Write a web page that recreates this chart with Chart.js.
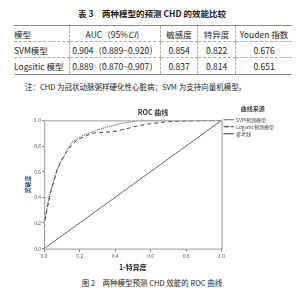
<!DOCTYPE html>
<html>
<head>
<meta charset="utf-8">
<script src="https://cdn.jsdelivr.net/npm/chart.js@4.4.0/dist/chart.umd.min.js"></script>
<style>
  body { margin: 0; width: 304px; height: 300px; background: #fff; position: relative; overflow: hidden;
         font-family: "Noto Sans CJK SC", "DejaVu Sans", sans-serif; color: #222; }
  .cap { position: absolute; left: 0; width: 304px; text-align: center; white-space: pre; }
  #tblTitle { top: 7px; font-size: 8.5px; font-weight: bold; }
  table { position: absolute; left: 14px; top: 25px; border-collapse: collapse; font-size: 8.5px; }
  td { border: 1px dashed #aaa; text-align: center; padding: 0; height: 15px; }
  tr:first-child td { border-top: 1px solid #888; }
  tr:last-child td { border-bottom: 1px solid #888; height: 16px; }
  td:first-child { border-left: none; text-align: left; }
  td:last-child { border-right: none; }
  #note { position: absolute; left: 25px; top: 81px; font-size: 7.5px; white-space: pre; }
  #wrap { position: absolute; left: 0; top: 104px; width: 304px; height: 172px; }
  #fig { top: 277px; font-size: 7.5px; }
</style>
</head>
<body>
<div class="cap" id="tblTitle">表 3　两种模型的预测 CHD 的效能比较</div>
<table>
  <tr><td style="width:55px">模型</td><td style="width:90px">AUC（95%<i>CI</i>）</td><td style="width:36px">敏感度</td><td style="width:37px">特异度</td><td style="width:56px">Youden 指数</td></tr>
  <tr><td>SVM模型</td><td>0.904（0.889~0.920）</td><td>0.854</td><td>0.822</td><td>0.676</td></tr>
  <tr><td>Logsitic 模型</td><td>0.889（0.870~0.907）</td><td>0.837</td><td>0.814</td><td>0.651</td></tr>
</table>
<div id="note">注：CHD 为冠状动脉粥样硬化性心脏病；SVM 为支持向量机模型。</div>
<div id="wrap"><canvas id="roc"></canvas></div>
<div class="cap" id="fig">图 2　两种模型预测 CHD 效能的 ROC 曲线</div>
<script>
// ROC points (1-特异度 -> 灵敏度)
const svmFpr = [0, 0, 0.005, 0.015, 0.03, 0.045, 0.06, 0.075, 0.1, 0.13, 0.15, 0.18, 0.22, 0.26, 0.3, 0.36, 0.43, 0.5, 0.54, 0.7, 0.85, 1.0];
const svmTpr = [0, 0.19, 0.25, 0.31, 0.42, 0.49, 0.56, 0.62, 0.69, 0.77, 0.82, 0.85, 0.885, 0.905, 0.925, 0.95, 0.975, 0.99, 1.0, 1.0, 1.0, 1.0];
const logFpr = [0, 0, 0.01, 0.02, 0.035, 0.05, 0.07, 0.09, 0.12, 0.15, 0.18, 0.22, 0.27, 0.32, 0.38, 0.45, 0.52, 0.6, 0.7, 0.8, 0.9, 1.0];
const logTpr = [0, 0.17, 0.26, 0.33, 0.43, 0.5, 0.6, 0.67, 0.74, 0.8, 0.84, 0.87, 0.9, 0.905, 0.91, 0.93, 0.955, 0.975, 0.99, 0.995, 1.0, 1.0];
const refFpr = [0, 1];
const refTpr = [0, 1];
const seriesNames = ['SVM预测模型', 'Logistic预测模型', '参考线'];
const tickValues = [0, 0.2, 0.4, 0.6, 0.8, 1.0];

function toPoints(xs, ys) {
    return xs.map((x, i) => ({ x: x, y: ys[i] }));
}

// box around the plot area
const frame = {
    id: 'frame',
    afterDraw(chart) {
        const a = chart.chartArea;
        const c = chart.ctx;
        c.save();
        c.strokeStyle = '#999';
        c.lineWidth = 1;
        c.strokeRect(a.left + 0.5, a.top + 0.5, a.right - a.left, a.bottom - a.top);
        c.restore();
    }
};

const font = '"Noto Sans CJK SC", "DejaVu Sans", sans-serif';

new Chart(document.getElementById('roc'), {
    type: 'scatter',
    data: {
        datasets: [
            { label: seriesNames[0], data: toPoints(svmFpr, svmTpr), borderColor: '#444', borderDash: [1, 1], borderWidth: 1 },
            { label: seriesNames[1], data: toPoints(logFpr, logTpr), borderColor: '#444', borderDash: [4, 3], borderWidth: 1 },
            { label: seriesNames[2], data: toPoints(refFpr, refTpr), borderColor: '#666', borderWidth: 1 }
        ].map(d => Object.assign(d, { showLine: true, pointRadius: 0, backgroundColor: 'transparent' }))
    },
    options: {
        animation: false,
        responsive: true,
        maintainAspectRatio: false,
        layout: { padding: { left: 22, right: 20, top: 0, bottom: 0 } },
        plugins: {
            title: { display: true, text: 'ROC 曲线', font: { family: font, size: 7, weight: 'bold' }, color: '#333', padding: { top: 4, bottom: 4 } },
            legend: {
                position: 'right', align: 'start',
                title: { display: true, text: '曲线来源', font: { family: font, size: 6, weight: 'bold' }, color: '#444', padding: 2 },
                labels: { boxWidth: 10, boxHeight: 0, padding: 2, font: { family: font, size: 5 }, color: '#444' }
            },
            tooltip: { enabled: false }
        },
        scales: {
            x: {
                type: 'linear', min: 0, max: 1,
                afterBuildTicks: s => { s.ticks = tickValues.map(v => ({ value: v })); },
                ticks: { font: { family: font, size: 5 }, color: '#555', padding: 1, callback: v => v.toFixed(1) },
                grid: { drawOnChartArea: false, tickLength: 3, color: '#777' },
                border: { display: false },
                title: { display: true, text: '1-特异度', font: { family: font, size: 7, weight: 'bold' }, color: '#222', padding: { top: 4 } }
            },
            y: {
                type: 'linear', min: 0, max: 1,
                afterBuildTicks: s => { s.ticks = tickValues.map(v => ({ value: v })); },
                ticks: { font: { family: font, size: 5 }, color: '#555', padding: 1, callback: v => v.toFixed(1) },
                grid: { drawOnChartArea: false, tickLength: 2, color: '#777' },
                border: { display: false },
                title: { display: true, text: '灵敏度', font: { family: font, size: 6, weight: 'bold' }, color: '#2a4f9a', padding: 2 }
            }
        }
    },
    plugins: [frame]
});
</script>
</body>
</html>
